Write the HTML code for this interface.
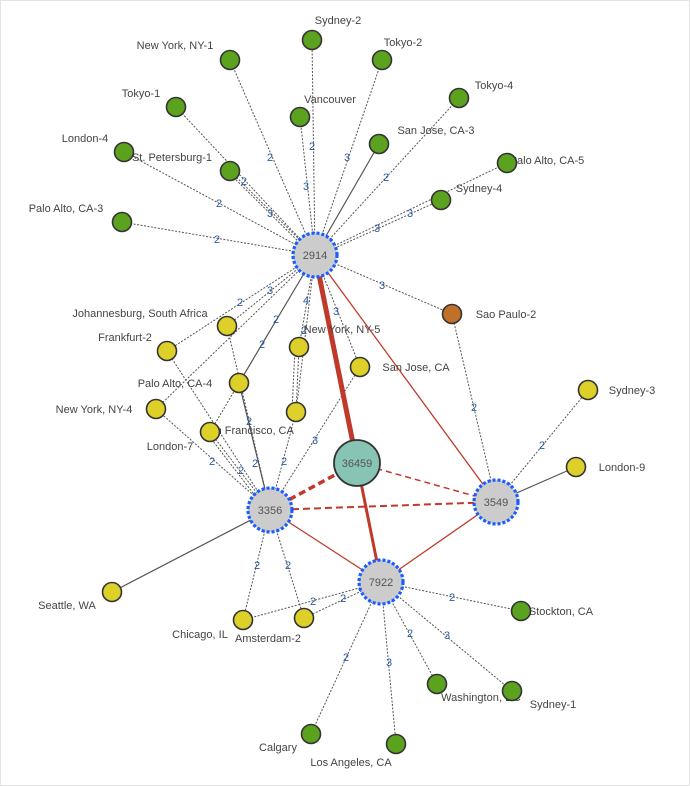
<!DOCTYPE html>
<html><head><meta charset="utf-8"><style>
html,body{margin:0;padding:0;background:#fff;}
svg{display:block;}
.e{stroke:#555;stroke-width:1;stroke-dasharray:2,1.5;fill:none}
.s{stroke:#555;stroke-width:1.2;fill:none}
.l{font-family:"Liberation Sans",sans-serif;font-size:11px;fill:#444;}
.n{font-family:"Liberation Sans",sans-serif;font-size:11px;fill:#2a5aa0;text-anchor:middle}
.h{font-family:"Liberation Sans",sans-serif;font-size:11px;fill:#555;text-anchor:middle}
.g{fill:#5ba21e;stroke:#333;stroke-width:1.6}
.y{fill:#ddd028;stroke:#333;stroke-width:1.6}
.hub{fill:#ccc;stroke:#1a5cff;stroke-width:3.2;stroke-dasharray:3,2}
</style></head><body>
<svg width="690" height="786" viewBox="0 0 690 786">
<rect x="0.5" y="0.5" width="689" height="785" fill="#fff" stroke="#e4e4e4"/>
<g>
<line class="e" x1="315" y1="255" x2="312" y2="40"/>
<line class="e" x1="315" y1="255" x2="230" y2="60"/>
<line class="e" x1="315" y1="255" x2="382" y2="60"/>
<line class="e" x1="315" y1="255" x2="176" y2="107"/>
<line class="e" x1="315" y1="255" x2="300" y2="117"/>
<line class="e" x1="315" y1="255" x2="459" y2="98"/>
<line class="s" x1="315" y1="255" x2="379" y2="144"/>
<line class="e" x1="315" y1="255" x2="124" y2="152"/>
<line class="e" x1="315" y1="255" x2="230" y2="171"/>
<line class="e" x1="312" y1="255" x2="227" y2="171"/>
<line class="e" x1="315" y1="255" x2="507" y2="163"/>
<line class="e" x1="315" y1="257" x2="441" y2="200"/>
<line class="e" x1="315" y1="255" x2="122" y2="222"/>
<line class="e" x1="315" y1="255" x2="452" y2="314"/>
<line class="e" x1="315" y1="255" x2="227" y2="326"/>
<line class="e" x1="315" y1="255" x2="167" y2="351"/>
<line class="e" x1="315" y1="255" x2="156" y2="409"/>
<line class="s" x1="315" y1="255" x2="239" y2="383"/>
<line class="e" x1="315" y1="255" x2="299" y2="347"/>
<line class="e" x1="315" y1="255" x2="360" y2="367"/>
<line class="e" x1="315" y1="255" x2="296" y2="412"/>
<line class="e" x1="270" y1="510" x2="167" y2="351"/>
<line class="e" x1="270" y1="510" x2="156" y2="409"/>
<line class="e" x1="270" y1="510" x2="227" y2="326"/>
<line class="s" x1="270" y1="510" x2="239" y2="383"/>
<line class="e" x1="270" y1="510" x2="210" y2="432"/>
<line class="e" x1="266" y1="510" x2="206" y2="432"/>
<line class="e" x1="239" y1="383" x2="210" y2="432"/>
<line class="e" x1="270" y1="510" x2="296" y2="412"/>
<line class="e" x1="296" y1="412" x2="299" y2="347"/>
<line class="e" x1="292" y1="412" x2="295" y2="347"/>
<line class="e" x1="270" y1="510" x2="360" y2="367"/>
<line class="s" x1="270" y1="510" x2="112" y2="592"/>
<line class="e" x1="270" y1="510" x2="243" y2="620"/>
<line class="e" x1="270" y1="510" x2="304" y2="618"/>
<line class="e" x1="381" y1="582" x2="243" y2="620"/>
<line class="e" x1="381" y1="582" x2="304" y2="618"/>
<line class="e" x1="381" y1="582" x2="521" y2="611"/>
<line class="e" x1="381" y1="582" x2="437" y2="684"/>
<line class="e" x1="381" y1="582" x2="512" y2="691"/>
<line class="e" x1="381" y1="582" x2="311" y2="734"/>
<line class="e" x1="381" y1="582" x2="396" y2="744"/>
<line class="e" x1="496" y1="502" x2="452" y2="314"/>
<line class="e" x1="496" y1="502" x2="588" y2="390"/>
<line class="s" x1="496" y1="502" x2="576" y2="467"/>
<line x1="315" y1="255" x2="357" y2="463" stroke="#c0392b" stroke-width="5"/>
<line x1="357" y1="463" x2="381" y2="582" stroke="#c0392b" stroke-width="3"/>
<line x1="315" y1="255" x2="496" y2="502" stroke="#c0392b" stroke-width="1.3"/>
<line x1="270" y1="510" x2="381" y2="582" stroke="#c0392b" stroke-width="1.3"/>
<line x1="496" y1="502" x2="381" y2="582" stroke="#c0392b" stroke-width="1.3"/>
<line x1="270" y1="510" x2="357" y2="463" stroke="#c0392b" stroke-width="3.5" stroke-dasharray="7,4"/>
<line x1="357" y1="463" x2="496" y2="502" stroke="#c0392b" stroke-width="1.5" stroke-dasharray="6,4"/>
<line x1="270" y1="510" x2="496" y2="502" stroke="#c0392b" stroke-width="2" stroke-dasharray="7,4"/>
</g>
<g class="n">
<text x="270" y="161">2</text><text x="312" y="150">2</text><text x="306" y="190">3</text><text x="347" y="161">3</text>
<text x="386" y="181">2</text><text x="244" y="185">2</text><text x="270" y="217">3</text><text x="219" y="207">2</text>
<text x="217" y="243">2</text><text x="410" y="217">3</text><text x="377" y="232">3</text><text x="382" y="289">3</text>
<text x="240" y="306">2</text><text x="270" y="294">3</text><text x="306" y="304">4</text><text x="276" y="323">2</text>
<text x="336" y="315">3</text><text x="262" y="348">2</text><text x="304" y="334">2</text><text x="249" y="425">2</text>
<text x="255" y="467">2</text><text x="212" y="465">2</text><text x="241" y="474">2</text><text x="284" y="465">2</text>
<text x="315" y="444">3</text><text x="474" y="411">2</text><text x="542" y="449">2</text>
<text x="257" y="569">2</text><text x="288" y="569">2</text><text x="313" y="605">2</text><text x="343" y="602">2</text>
<text x="452" y="601">2</text><text x="410" y="637">2</text><text x="447" y="639">3</text><text x="346" y="661">2</text><text x="389" y="666">3</text>
</g>
<g class="l">
<text x="338" y="24" text-anchor="middle">Sydney-2</text>
<text x="175" y="49" text-anchor="middle">New York, NY-1</text>
<text x="403" y="46" text-anchor="middle">Tokyo-2</text>
<text x="141" y="97" text-anchor="middle">Tokyo-1</text>
<text x="330" y="103" text-anchor="middle">Vancouver</text>
<text x="494" y="89" text-anchor="middle">Tokyo-4</text>
<text x="436" y="134" text-anchor="middle">San Jose, CA-3</text>
<text x="85" y="142" text-anchor="middle">London-4</text>
<text x="172" y="161" text-anchor="middle">St. Petersburg-1</text>
<text x="547" y="164" text-anchor="middle">Palo Alto, CA-5</text>
<text x="479" y="192" text-anchor="middle">Sydney-4</text>
<text x="66" y="212" text-anchor="middle">Palo Alto, CA-3</text>
<text x="506" y="318" text-anchor="middle">Sao Paulo-2</text>
<text x="140" y="317" text-anchor="middle">Johannesburg, South Africa</text>
<text x="125" y="341" text-anchor="middle">Frankfurt-2</text>
<text x="342" y="333" text-anchor="middle">New York, NY-5</text>
<text x="416" y="371" text-anchor="middle">San Jose, CA</text>
<text x="175" y="387" text-anchor="middle">Palo Alto, CA-4</text>
<text x="94" y="413" text-anchor="middle">New York, NY-4</text>
<text x="248" y="434" text-anchor="middle">San Francisco, CA</text>
<text x="170" y="450" text-anchor="middle">London-7</text>
<text x="632" y="394" text-anchor="middle">Sydney-3</text>
<text x="622" y="471" text-anchor="middle">London-9</text>
<text x="67" y="609" text-anchor="middle">Seattle, WA</text>
<text x="200" y="638" text-anchor="middle">Chicago, IL</text>
<text x="268" y="642" text-anchor="middle">Amsterdam-2</text>
<text x="561" y="615" text-anchor="middle">Stockton, CA</text>
<text x="481" y="701" text-anchor="middle">Washington, DC</text>
<text x="553" y="708" text-anchor="middle">Sydney-1</text>
<text x="278" y="751" text-anchor="middle">Calgary</text>
<text x="351" y="766" text-anchor="middle">Los Angeles, CA</text>
</g>
<g>
<circle class="g" cx="312" cy="40" r="9.5"/><circle class="g" cx="230" cy="60" r="9.5"/><circle class="g" cx="382" cy="60" r="9.5"/>
<circle class="g" cx="176" cy="107" r="9.5"/><circle class="g" cx="300" cy="117" r="9.5"/><circle class="g" cx="459" cy="98" r="9.5"/>
<circle class="g" cx="379" cy="144" r="9.5"/><circle class="g" cx="124" cy="152" r="9.5"/><circle class="g" cx="230" cy="171" r="9.5"/>
<circle class="g" cx="507" cy="163" r="9.5"/><circle class="g" cx="441" cy="200" r="9.5"/><circle class="g" cx="122" cy="222" r="9.5"/>
<circle cx="452" cy="314" r="9.5" fill="#c07028" stroke="#333" stroke-width="1.6"/>
<circle class="y" cx="227" cy="326" r="9.5"/><circle class="y" cx="167" cy="351" r="9.5"/><circle class="y" cx="299" cy="347" r="9.5"/>
<circle class="y" cx="360" cy="367" r="9.5"/><circle class="y" cx="239" cy="383" r="9.5"/><circle class="y" cx="156" cy="409" r="9.5"/>
<circle class="y" cx="296" cy="412" r="9.5"/><circle class="y" cx="210" cy="432" r="9.5"/><circle class="y" cx="588" cy="390" r="9.5"/>
<circle class="y" cx="576" cy="467" r="9.5"/><circle class="y" cx="112" cy="592" r="9.5"/><circle class="y" cx="243" cy="620" r="9.5"/>
<circle class="y" cx="304" cy="618" r="9.5"/>
<circle class="g" cx="521" cy="611" r="9.5"/><circle class="g" cx="437" cy="684" r="9.5"/><circle class="g" cx="512" cy="691" r="9.5"/>
<circle class="g" cx="311" cy="734" r="9.5"/><circle class="g" cx="396" cy="744" r="9.5"/>
<circle class="hub" cx="315" cy="255" r="22"/>
<circle class="hub" cx="270" cy="510" r="22"/>
<circle class="hub" cx="496" cy="502" r="22"/>
<circle class="hub" cx="381" cy="582" r="22"/>
<circle cx="357" cy="463" r="23" fill="#88c4b4" stroke="#333" stroke-width="1.8"/>
</g>
<g class="h">
<text x="315" y="259">2914</text><text x="270" y="514">3356</text><text x="496" y="506">3549</text>
<text x="381" y="586">7922</text><text x="357" y="467">36459</text>
</g>
</svg>
</body></html>
